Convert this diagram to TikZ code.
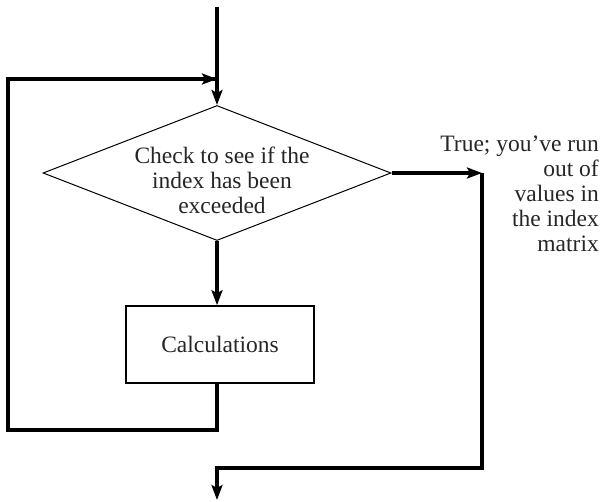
\documentclass[tikz,border=0pt]{standalone}
\usepackage{fontspec}
\setmainfont{Liberation Serif}
\usetikzlibrary{shapes.geometric,arrows.meta}
\tikzset{
  flow/.style={line width=3.2pt, line join=miter, -{Stealth[length=15pt,width=11pt,inset=3pt]}},
  flowline/.style={line width=3.2pt, line join=miter},
  dia/.style={draw, line width=1pt, diamond, inner sep=0pt, minimum width=348pt, minimum height=135pt},
  box/.style={draw, line width=1.6pt, rectangle, minimum width=188pt, minimum height=77pt},
  txt/.style={font=\fontsize{23.5pt}{25pt}\selectfont, text=black!85}
}
\begin{document}
\begin{tikzpicture}[x=1pt,y=-1pt]
\useasboundingbox (0,0) rectangle (604,501);
\coordinate (start) at (217,7);
\node[dia] (d) at (217,173) {};
\node[txt, align=center] (dtext) at (222,180) {Check to see if the\\index has been\\exceeded};
\node[box, txt] (c) at (220,344.5) {Calculations};
\coordinate (lb) at (217,430);
\coordinate (ll) at (8,430);
\coordinate (lt) at (8,79);
\coordinate (lm) at (217,79);
\coordinate (rt) at (482,173);
\coordinate (rb) at (482,468);
\coordinate (bl) at (217,468);
\coordinate (end) at (217,500);
\node[txt, align=right, anchor=north east, inner sep=0pt] (lab) at (599,136) {True; you’ve run\\out of\\values in\\the index\\matrix};
\draw[flow] (start) -- (d.north);
\draw[flow] (d.south) -- (c.north -| d.south);
\draw[flowline] (c.south -| lb) -- (lb) -- (ll) -- (lt) -- (lm);
\draw[flow] (lt) -- (lm);
\draw[flow] (d.east) -- (rt);
\draw[flow] (rt) -- (rb) -- (bl) -- (end);
\end{tikzpicture}
\end{document}
